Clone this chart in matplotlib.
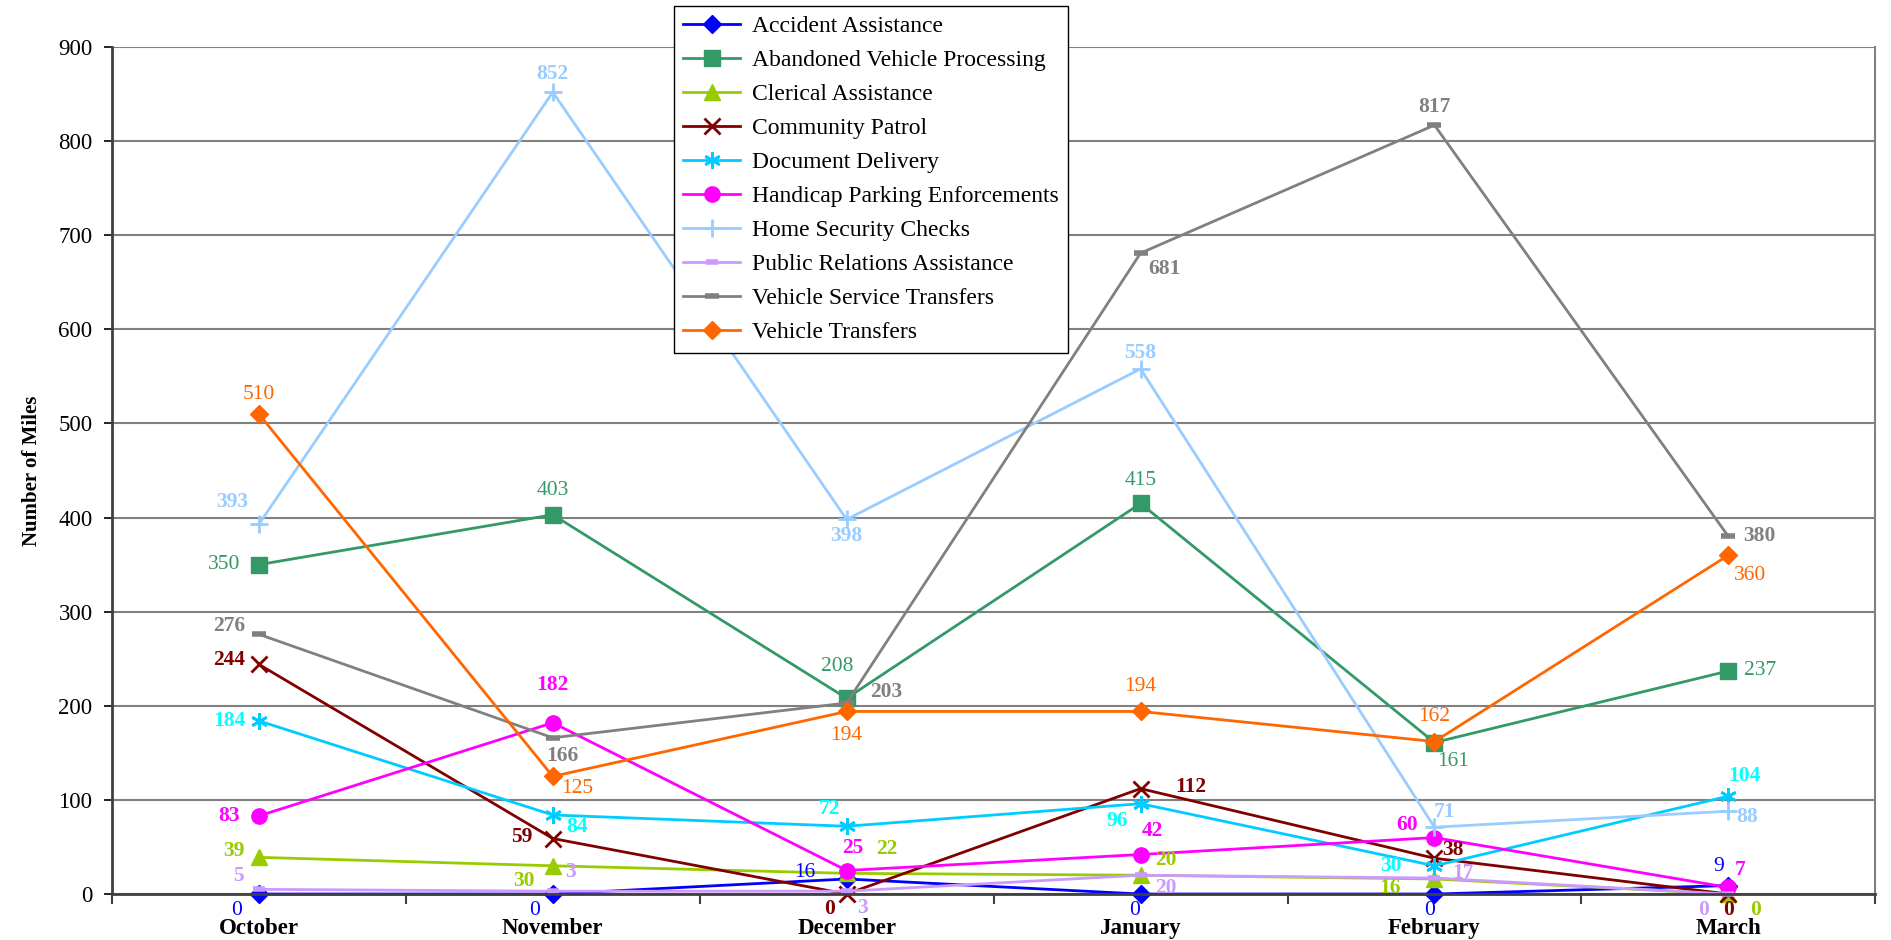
import numpy as np
import matplotlib.pyplot as plt
from matplotlib.ticker import MultipleLocator, FixedLocator

plt.rcParams['font.family'] = ['Liberation Serif', 'DejaVu Serif']

months = ['October', 'November', 'December', 'January', 'February', 'March']

accident = [0, 0, 16, 0, 0, 9]
abandoned = [350, 403, 208, 415, 161, 237]
clerical = [39, 30, 22, 20, 16, 0]
patrol = [244, 59, 0, 112, 38, 0]
documents = [184, 84, 72, 96, 30, 104]
handicap = [83, 182, 25, 42, 60, 7]
home_checks = [393, 852, 398, 558, 71, 88]
public_rel = [5, 3, 3, 20, 17, 0]
service_transfers = [276, 166, 203, 681, 817, 380]
vehicle_transfers = [510, 125, 194, 194, 162, 360]

# asterisk marker: six spokes
asterisk = (6, 2, 0)

# name, values, line colour, label colour, marker, marker size, bold labels
series = [
    ('Accident Assistance', accident, '#0000FF', '#0000FF', 'D', 9, False),
    ('Abandoned Vehicle Processing', abandoned, '#339966', '#339966', 's', 11, False),
    ('Clerical Assistance', clerical, '#99CC00', '#99CC00', '^', 11, True),
    ('Community Patrol', patrol, '#800000', '#800000', 'x', 11, True),
    ('Document Delivery', documents, '#00CCFF', '#00FFFF', asterisk, 12, True),
    ('Handicap Parking Enforcements', handicap, '#FF00FF', '#FF00FF', 'o', 11, True),
    ('Home Security Checks', home_checks, '#99CCFF', '#99CCFF', '+', 13, True),
    ('Public Relations Assistance', public_rel, '#CC99FF', '#CC99FF', '_', 8, True),
    ('Vehicle Service Transfers', service_transfers, '#808080', '#808080', '_', 10, True),
    ('Vehicle Transfers', vehicle_transfers, '#FF6600', '#FF6600', 'D', 9, False),
]

# label offsets in pixels (dx, dy) for each point
offsets = {
    'Accident Assistance': [(-22, -16), (-18, -16), (-42, 6), (-6, -16), (-5, -16), (-10, 19)],
    'Abandoned Vehicle Processing': [(-35, 0), (0, 24), (-9, 32), (0, 23), (19, -19), (32, 0)],
    'Clerical Assistance': [(-25, 6), (-29, -15), (40, 24), (25, 15), (-44, -9), (27, -16)],
    'Community Patrol': [(-30, 4), (-31, 2), (-17, -15), (50, 2), (18, 8), (0, -16)],
    'Document Delivery': [(-30, 0), (24, -12), (-17, 17), (-23, -17), (-44, 0), (16, 20)],
    'Handicap Parking Enforcements': [(-30, 0), (0, 38), (6, 23), (12, 24), (-27, 13), (12, 17)],
    'Home Security Checks': [(-27, 22), (0, 18), (0, -17), (0, 16), (10, 15), (19, -6)],
    'Public Relations Assistance': [(-20, 13), (18, 19), (16, -17), (25, -13), (29, 5), (-25, -16)],
    'Vehicle Service Transfers': [(-30, 8), (10, -18), (40, 11), (24, -16), (0, 18), (31, 0)],
    'Vehicle Transfers': [(0, 20), (24, -12), (0, -24), (0, 25), (0, 25), (22, -20)],
}

fig = plt.figure(figsize=(18.91, 9.4), dpi=100)
ax = fig.add_axes([0.0592, 0.0489, 0.9325, 0.9011])

x = np.arange(len(months))
for name, vals, col, lcol, mk, ms, bold in series:
    mew = 2 if mk in ('x', '+', asterisk) else (4 if mk == '_' else 1)
    ax.plot(x, vals, color=col, lw=2, marker=mk, markersize=ms,
            markeredgewidth=mew, markeredgecolor=col, markerfacecolor=col,
            label=name, clip_on=False)
    for i, v in enumerate(vals):
        dx, dy = offsets[name][i]
        ax.annotate(str(v), (x[i], v), xytext=(dx, dy), textcoords='offset pixels',
                    ha='center', va='center', fontsize=15.5, color=lcol,
                    fontweight='bold' if bold else 'normal')

ax.set_xlim(-0.5, len(months) - 0.5)
ax.set_ylim(0, 900)
ax.yaxis.set_major_locator(MultipleLocator(100))
ax.grid(axis='y', color='#808080', lw=1.5)
ax.set_axisbelow(True)

ax.set_xticks(x)
ax.set_xticklabels(months, fontsize=16.5, fontweight='bold')
ax.tick_params(axis='x', which='major', length=0, pad=17)
ax.xaxis.set_minor_locator(FixedLocator(np.arange(-0.5, len(months), 1.0)))
ax.tick_params(axis='x', which='minor', length=7, width=1.5, color='#404040')
ax.tick_params(axis='y', length=6, width=1.2, labelsize=16.5, pad=8)

for side in ['left', 'bottom']:
    ax.spines[side].set_color('#404040')
    ax.spines[side].set_linewidth(2)
ax.spines['right'].set_color('#808080')
ax.spines['right'].set_linewidth(1.5)
ax.spines['top'].set_visible(False)

ax.set_ylabel('Number of Miles', fontsize=15, fontweight='bold', labelpad=12)

leg = ax.legend(loc='upper left', bbox_to_anchor=(0.3564, 0.9936),
                bbox_transform=fig.transFigure, fontsize=17, frameon=True,
                fancybox=False, edgecolor='black', framealpha=1,
                handlelength=2.4, labelspacing=0.53, borderpad=0.4,
                handletextpad=0.5, borderaxespad=0)
leg.get_frame().set_linewidth(1)
leg.set_zorder(10)

fig.savefig('out.png', dpi=100)
